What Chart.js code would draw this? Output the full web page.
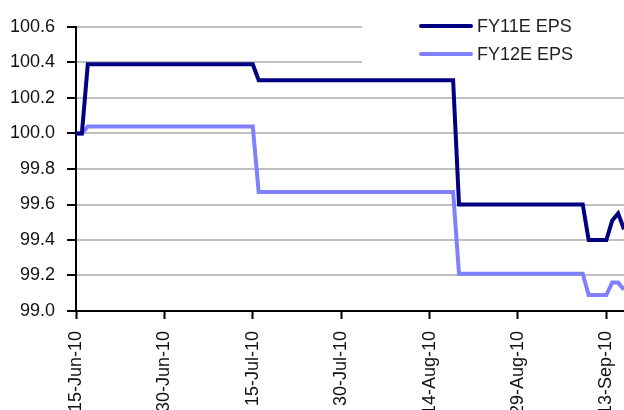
<!DOCTYPE html>
<html>
<head>
<meta charset="utf-8">
<script src="https://cdn.jsdelivr.net/npm/chart.js@4.4.1/dist/chart.umd.min.js"></script>
<style>
  html, body { margin: 0; padding: 0; background: #fff; }
  #wrap { width: 624px; height: 410px; }
</style>
</head>
<body>
<div id="wrap"><canvas id="c" width="624" height="410"></canvas></div>
<script>
// Observation dates (days where the estimate changes or is re-quoted)
const obsDates = [
  '2010-06-15', '2010-06-16', '2010-06-17', '2010-07-15', '2010-07-16',
  '2010-08-18', '2010-08-19', '2010-09-09', '2010-09-10', '2010-09-13',
  '2010-09-14', '2010-09-15', '2010-09-16'
];
// Consensus EPS, indexed to 100
const fy11Eps = [100.00, 100.00, 100.39, 100.39, 100.30, 100.30, 99.60, 99.60, 99.40, 99.40, 99.51, 99.55, 99.46];
const fy12Eps = [100.00, 100.00, 100.04, 100.04, 99.67, 99.67, 99.21, 99.21, 99.09, 99.09, 99.16, 99.16, 99.12];
const seriesNames = ['FY11E EPS', 'FY12E EPS'];
const seriesColors = ['#000080', '#8080ff'];
const startDate = '2010-06-15';
const endDate = '2010-09-16';
const yTicks = [99.0, 99.2, 99.4, 99.6, 99.8, 100.0, 100.2, 100.4, 100.6];
const monthNames = ['Jan','Feb','Mar','Apr','May','Jun','Jul','Aug','Sep','Oct','Nov','Dec'];

const DAY = 86400000;
function toUTC(s) { const p = s.split('-').map(Number); return Date.UTC(p[0], p[1] - 1, p[2]); }
const t0 = toUTC(startDate);
function dayIndex(s) { return Math.round((toUTC(s) - t0) / DAY); }
function dayLabel(d) {
  const dt = new Date(t0 + d * DAY);
  return dt.getUTCDate() + '-' + monthNames[dt.getUTCMonth()] + '-' + String(dt.getUTCFullYear()).slice(2);
}
const xs = obsDates.map(dayIndex);
const FONT = "'Liberation Sans', Arial, sans-serif";

// Legend box in the upper right corner, drawn over the plot area
const cornerLegend = {
  id: 'cornerLegend',
  afterDraw(chart) {
    const ctx = chart.ctx;
    ctx.save();
    ctx.fillStyle = '#ffffff';
    ctx.fillRect(362, 0, 262, 72);
    ctx.font = '18px ' + FONT;
    ctx.textBaseline = 'middle';
    ctx.textAlign = 'left';
    chart.data.datasets.forEach((ds, i) => {
      const y = 26 + i * 28;
      ctx.strokeStyle = ds.borderColor;
      ctx.lineWidth = 4;
      ctx.lineCap = 'round';
      ctx.beginPath();
      ctx.moveTo(421, y);
      ctx.lineTo(471, y);
      ctx.stroke();
      ctx.fillStyle = '#222222';
      ctx.fillText(ds.label, 477, y + 1);
    });
    ctx.restore();
  }
};

new Chart(document.getElementById('c'), {
  type: 'line',
  data: {
    datasets: [
      {
        label: seriesNames[0],
        data: xs.map((x, i) => ({ x: x, y: fy11Eps[i] })),
        borderColor: seriesColors[0],
        borderWidth: 4,
        pointRadius: 0,
        tension: 0,
        borderJoinStyle: 'miter'
      },
      {
        label: seriesNames[1],
        data: xs.map((x, i) => ({ x: x, y: fy12Eps[i] })),
        borderColor: seriesColors[1],
        borderWidth: 4,
        pointRadius: 0,
        tension: 0,
        borderJoinStyle: 'miter'
      }
    ]
  },
  options: {
    responsive: false,
    animation: false,
    devicePixelRatio: 1,
    layout: { padding: { top: 27, right: 0, left: 0, bottom: 0 } },
    plugins: { legend: { display: false }, tooltip: { enabled: false } },
    scales: {
      x: {
        type: 'linear',
        min: 0,
        max: dayIndex(endDate),
        afterBuildTicks(scale) {
          scale.ticks = [];
          for (let d = 0; d <= scale.max; d += 15) scale.ticks.push({ value: d });
        },
        afterFit(scale) {
          scale.height = 99;
          scale.paddingLeft = 0;
          scale.paddingRight = 0;
        },
        ticks: {
          autoSkip: false,
          minRotation: 90,
          maxRotation: 90,
          padding: 12,
          color: '#111111',
          font: { family: FONT, size: 18 },
          callback: (v) => dayLabel(v)
        },
        grid: {
          drawOnChartArea: false,
          tickLength: 8,
          tickWidth: 2,
          tickColor: '#000000'
        },
        border: { display: true, color: '#000000', width: 2 }
      },
      y: {
        min: yTicks[0],
        max: yTicks[yTicks.length - 1],
        afterBuildTicks(scale) { scale.ticks = yTicks.map(v => ({ value: v })); },
        afterFit(scale) { scale.width = 76; },
        ticks: {
          padding: 12,
          color: '#111111',
          font: { family: FONT, size: 18 },
          callback: (v) => Number(v).toFixed(1)
        },
        grid: {
          color: (c) => (c.tick && Math.abs(c.tick.value - yTicks[0]) < 1e-9) ? 'rgba(0,0,0,0)' : '#c0c0c0',
          lineWidth: 2,
          tickLength: 9,
          tickWidth: 2,
          tickColor: '#000000'
        },
        border: { display: true, color: '#000000', width: 2 }
      }
    }
  },
  plugins: [cornerLegend]
});
</script>
</body>
</html>
